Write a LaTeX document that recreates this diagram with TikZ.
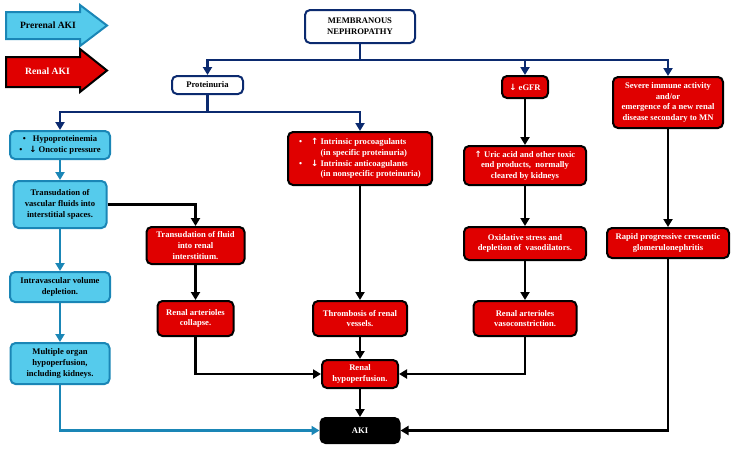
\documentclass[tikz,border=0pt]{standalone}
\usepackage{fontspec}
\setmainfont{Liberation Serif}
\newfontfamily\arrowfont{DejaVu Sans}
\usetikzlibrary{arrows.meta, positioning}
\definecolor{cNavy}{HTML}{0B2A6F}
\definecolor{cRenal}{HTML}{E00000}
\definecolor{cPre}{HTML}{1A86B6}
\definecolor{cPreFill}{HTML}{55CBEC}
\newcommand{\upar}{{\arrowfont\bfseries ↑}}
\newcommand{\downar}{{\arrowfont\bfseries ↓}}

\begin{document}
\begin{tikzpicture}[x=1pt, y=-1pt,
  title/.style={rectangle, rounded corners=5pt, draw=cNavy, fill=white, line width=2pt,
    inner sep=1.5pt, align=center, font=\fontsize{8.6}{10.7}\selectfont\bfseries},
  prerenal/.style={rectangle, rounded corners=5pt, draw=cPre, fill=cPreFill, line width=2pt,
    inner sep=1.5pt, align=center, text=black, font=\fontsize{8.6}{10.7}\selectfont\bfseries},
  renal/.style={rectangle, rounded corners=5pt, draw=black, fill=cRenal, line width=2pt,
    inner sep=1.5pt, align=center, text=white, font=\fontsize{8.6}{10.7}\selectfont\bfseries},
  akibox/.style={rectangle, rounded corners=5pt, draw=black, fill=black, line width=2pt,
    inner sep=1.5pt, align=center, text=white, font=\fontsize{8.6}{10.7}\selectfont\bfseries},
  legend/.style={line width=2pt, line join=miter},
  legendtext/.style={font=\fontsize{9.6}{11}\selectfont\bfseries},
  navyline/.style={line width=2.8pt, cNavy},
  navyarr/.style={-{Triangle[length=8pt, width=9pt]}, line width=2.8pt, cNavy},
  prearr/.style={-{Triangle[length=8pt, width=9pt]}, line width=2.6pt, cPre},
  arr/.style={-{Triangle[length=8pt, width=9pt]}, line width=2.6pt, black}
]
  \useasboundingbox (0,0) rectangle (735,451);

  \draw[legend, draw=cPre, fill=cPreFill] (6,12) -- (80,12) -- (80,5) -- (107,25.5)
    -- (80,46) -- (80,39) -- (6,39) -- cycle;
  \node[legendtext, text=black] (prelabel) at (48,25.5) {Prerenal AKI};
  \draw[legend, draw=black, fill=cRenal] (6,57) -- (80,57) -- (80,49) -- (107,70.5)
    -- (80,92) -- (80,87) -- (6,87) -- cycle;
  \node[legendtext, text=white] (renlabel) at (47.5,71) {Renal AKI};

  \node[title, minimum width=110pt, minimum height=33pt] (mn) at (360,26.5) {MEMBRANOUS\\NEPHROPATHY};
  \node[title, minimum width=71pt, minimum height=18pt] (prot) at (207.5,85) {Proteinuria};
  \node[renal, minimum width=46pt, minimum height=22pt] (egfr) at (525,87) {\downar\ eGFR};
  \node[renal, minimum width=110pt, minimum height=51pt] (severe) at (668,102.5)
    {Severe immune activity\\and/or\\emergence of a new renal\\disease secondary to MN};

  \node[prerenal, minimum width=100pt, minimum height=28pt] (hypo) at (60,145)
    {\textbullet\hspace{7pt}Hypoproteinemia\hspace{6pt}\\\textbullet\hspace{7pt}\downar\ Oncotic pressure};
  \node[prerenal, minimum width=93pt, minimum height=47pt] (transvasc) at (60,204.5)
    {Transudation of\\vascular fluids into\\interstitial spaces.};
  \node[prerenal, minimum width=100pt, minimum height=30pt] (intravasc) at (60,287)
    {Intravascular volume\\depletion.};
  \node[prerenal, minimum width=99pt, minimum height=41pt] (multiple) at (60,363.5)
    {Multiple organ\\hypoperfusion,\\including kidneys.};

  \node[renal, minimum width=98pt, minimum height=37pt] (transfluid) at (195.5,245.5)
    {Transudation of fluid\\into renal\\interstitium.};
  \node[renal, minimum width=76pt, minimum height=35pt] (collapse) at (195.5,318.5)
    {Renal arterioles\\collapse.};

  \node[renal, minimum width=144pt, minimum height=53pt, align=left] (procoag) at (360,158.5)
    {\textbullet\hspace{9pt}\upar\ Intrinsic procoagulants\\
     \phantom{\textbullet}\hspace{9pt}\phantom{\upar\ }(in specific proteinuria)\\
     \textbullet\hspace{9pt}\downar\ Intrinsic anticoagulants\\
     \phantom{\textbullet}\hspace{9pt}\phantom{\upar\ }(in nonspecific proteinuria)};
  \node[renal, minimum width=94pt, minimum height=35pt] (thromb) at (360,318.5)
    {Thrombosis of renal\\vessels.};
  \node[renal, minimum width=76pt, minimum height=28pt] (hypoperf) at (360,374)
    {Renal\\hypoperfusion.};
  \node[akibox, minimum width=79pt, minimum height=25pt] (aki) at (360,430.5) {AKI};

  \node[renal, minimum width=122pt, minimum height=39pt] (uric) at (525,165.5)
    {\upar\ Uric acid and other toxic\\end products,\ \ normally\\cleared by kidneys};
  \node[renal, minimum width=122pt, minimum height=33pt] (oxid) at (525,243.5)
    {Oxidative stress and\\depletion of\ \ vasodilators.};
  \node[renal, minimum width=103pt, minimum height=35pt] (vasocon) at (525,318.5)
    {Renal arterioles\\vasoconstriction.};

  \node[renal, minimum width=122pt, minimum height=30pt] (rapid) at (668,243)
    {Rapid progressive crescentic\\glomerulonephritis};

  \coordinate (mnbus) at (360,60);
  \coordinate (pbus) at (207.5,112);

  \draw[navyline] (mn) -- (mnbus);
  \draw[navyarr] (mnbus) -| (prot);
  \draw[navyarr] (mnbus) -| (egfr);
  \draw[navyarr] (mnbus) -| (severe);
  \draw[navyarr] (prot) -- (pbus) -| (hypo);
  \draw[navyarr] (pbus) -| (procoag);

  \draw[prearr] (hypo) -- (transvasc);
  \draw[prearr] (transvasc) -- (intravasc);
  \draw[prearr] (intravasc) -- (multiple);
  \draw[prearr] (multiple) |- (aki);

  \draw[arr] (transvasc) -| (transfluid);
  \draw[arr] (transfluid) -- (collapse);
  \draw[arr] (collapse) |- (hypoperf);
  \draw[arr] (procoag) -- (thromb);
  \draw[arr] (thromb) -- (hypoperf);
  \draw[arr] (hypoperf) -- (aki);
  \draw[arr] (egfr) -- (uric);
  \draw[arr] (uric) -- (oxid);
  \draw[arr] (oxid) -- (vasocon);
  \draw[arr] (vasocon) |- (hypoperf);
  \draw[arr] (severe) -- (rapid);
  \draw[arr] (rapid) |- (aki);
\end{tikzpicture}
\end{document}
